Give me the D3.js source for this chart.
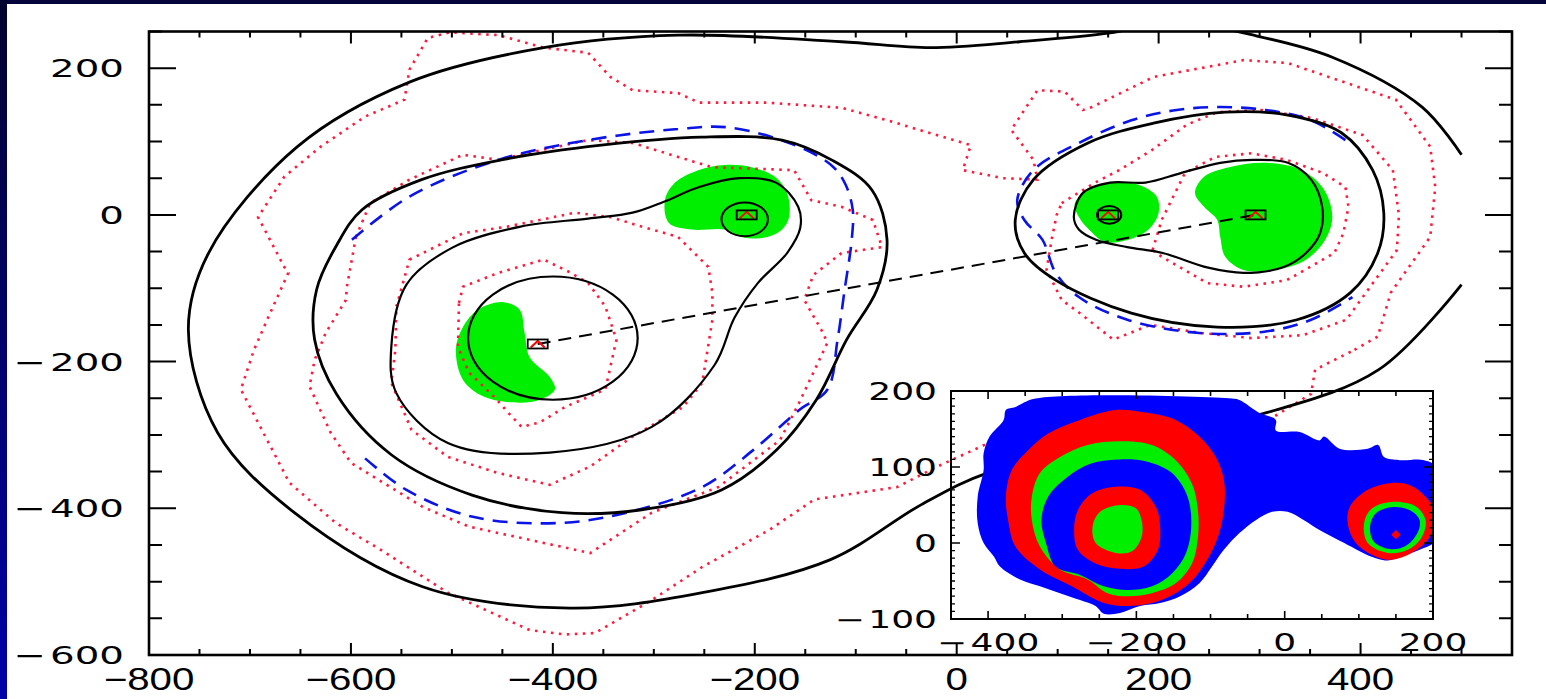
<!DOCTYPE html>
<html>
<head>
<meta charset="utf-8">
<script src="https://cdn.jsdelivr.net/npm/d3@7"></script>
<style>
  html, body { margin: 0; padding: 0; background: #fff; }
  svg { display: block; }
</style>
</head>
<body>
<div id="chart"></div>
<script>
// ---- main panel data (x, y in plot units) ----
var xTickLabels = [-800, -600, -400, -200, 0, 200, 400];
var yTickLabels = [-600, -400, -200, 0, 200];

var lenses = [[-415, -176], [-208, 0], [150, 0], [296, 0]];
var lensRings = [[-210, -6, 23], [151, 0, 12]];   // cx, cy, r

var outerCurve = [[500,82],[461,147],[372,215],[284,248],[230,262],[193,259],[152,248],[62,236],[-26,228],[-114,236],
  [-276,245],[-409,228],[-542,181],[-653,93],[-741,-52],[-761,-157],[-732,-297],[-656,-406],[-529,-507],[-383,-536],
  [-252,-515],[-125,-470],[-35,-395],[30,-352],[173,-307],[306,-270],[418,-211],[500,-95]];

var leftMid = [[-69,-34],[-84,34],[-124,75],[-173,102],[-253,106],[-352,95],[-451,75],[-530,48],[-589,7],[-614,-41],
  [-634,-102],[-636,-170],[-614,-245],[-560,-327],[-480,-382],[-391,-406],[-312,-402],[-233,-375],[-178,-320],
  [-139,-252],[-109,-170],[-79,-102]];

var leftInner = [[-560,-180],[-545,-95],[-500,-45],[-432,-16],[-365,-5],[-321,3],[-290,18],[-255,38],[-215,50],
  [-179,44],[-157,11],[-155,-18],[-168,-52],[-197,-93],[-220,-140],[-240,-205],[-302,-289],[-403,-324],[-504,-311],[-555,-243]];

var leftCircle = { cx: -400, cy: -168, r: 84 };

var rightPeanut = [[116,-3],[125,30],[152,44],[187,44],[222,57],[261,71],[293,75],[328,71],[351,48],[362,11],[360,-25],
  [346,-52],[324,-71],[284,-79],[249,-72],[204,-52],[169,-44],[138,-34],[121,-20]];

var rightOval = [[58,-7],[76,48],[130,98],[195,125],[266,140],[328,136],[381,112],[412,61],[423,3],[417,-52],[390,-106],
  [337,-143],[258,-153],[173,-134],[98,-89],[67,-52]];

var blueLeft = [[-599,-34],[-542,25],[-454,75],[-365,102],[-276,117],[-224,119],[-153,91],[-122,65],[-110,41],[-103,7],
  [-104,-34],[-111,-102],[-118,-170],[-128,-238],[-156,-266],[-201,-320],[-252,-371],[-327,-406],[-393,-420],
  [-478,-412],[-545,-375],[-590,-327]];

var blueRight = [[385,102],[351,129],[306,143],[261,147],[218,143],[173,129],[121,98],[76,61],[60,20],[67,-7],[85,-34],
  [98,-79],[121,-112],[169,-143],[240,-161],[306,-159],[351,-143],[392,-112]];

var greenBlobs = [
  [[-449,-119],[-433,-129],[-428,-161],[-423,-194],[-403,-221],[-398,-238],[-413,-252],[-433,-256],[-468,-248],
   [-489,-225],[-496,-184],[-489,-153],[-474,-129]],
  [[-289,20],[-279,44],[-256,61],[-230,68],[-203,65],[-180,52],[-168,30],[-166,-3],[-173,-20],[-190,-31],[-213,-30],
   [-230,-20],[-262,-20],[-285,-11]],
  [[117,16],[134,37],[154,44],[180,41],[198,25],[200,3],[190,-20],[170,-34],[147,-37],[131,-20],[121,-3]],
  [[236,30],[245,52],[270,65],[306,71],[342,61],[364,34],[372,-3],[365,-34],[346,-61],[315,-75],[284,-75],[266,-57],
   [261,-30],[258,-7],[245,11]]
];

// red dotted contours (jagged, closed)
var dotLens = [[-493,-120],[-489,-98],[-454,-79],[-409,-61],[-382,-79],[-365,-93],[-348,-125],[-337,-170],[-348,-238],
  [-388,-262],[-413,-283],[-431,-289],[-444,-270],[-458,-248],[-483,-215],[-494,-180]];
var dotLeft2 = [[-542,-61],[-489,-25],[-445,-16],[-378,3],[-343,-3],[-312,-16],[-276,-30],[-246,-71],[-242,-106],
  [-242,-143],[-252,-229],[-271,-262],[-322,-303],[-363,-343],[-403,-368],[-454,-352],[-504,-330],[-540,-293],
  [-560,-229],[-556,-184],[-555,-125]];
var dotLeft3 = [[-595,-30],[-581,16],[-542,48],[-489,82],[-454,75],[-409,89],[-365,102],[-321,98],[-276,79],[-242,65],
  [-161,61],[-144,20],[-114,11],[-83,-7],[-74,-44],[-114,-52],[-142,-82],[-151,-116],[-134,-157],[-128,-174],
  [-156,-256],[-175,-307],[-236,-371],[-302,-406],[-363,-461],[-423,-443],[-483,-425],[-529,-398],[-600,-338],
  [-620,-297],[-641,-234],[-636,-198],[-625,-161],[-605,-116],[-604,-98]];
var dotOuter = [[394,-184],[417,-166],[430,-106],[469,-30],[474,38],[469,93],[435,157],[328,207],[284,211],[195,188],
  [134,147],[125,143],[107,168],[80,170],[54,116],[76,75],[80,48],[46,50],[6,61],[14,95],[-69,129],[-114,146],
  [-188,153],[-255,153],[-276,166],[-321,170],[-343,188],[-365,221],[-409,228],[-454,245],[-502,249],[-524,241],
  [-542,198],[-547,157],[-586,134],[-630,93],[-666,52],[-692,-3],[-666,-71],[-662,-79],[-683,-143],[-696,-184],
  [-709,-238],[-661,-365],[-615,-420],[-570,-457],[-504,-515],[-423,-566],[-388,-572],[-358,-570],[-302,-525],
  [-252,-480],[-185,-429],[-141,-388],[-59,-371],[-19,-343],[38,-307],[173,-293],[306,-282],[351,-244],[355,-211]];
var dotRightIn = [[194,-48],[203,-7],[226,57],[256,79],[292,84],[327,75],[363,57],[385,38],[388,11],[383,-25],
  [374,-52],[327,-89],[284,-98],[248,-93],[203,-57]];
var dotRightMid = [[104,16],[137,44],[161,61],[193,88],[228,123],[258,140],[302,143],[352,132],[402,109],[432,61],
  [438,0],[436,-48],[418,-82],[386,-143],[343,-164],[292,-168],[242,-161],[192,-150],[155,-170],[122,-134],[104,-116],
  [89,-75],[94,-34],[99,0]];

// ---- inset data (inset units) ----
var insetXLabels = [-400, -200, 0, 200];
var insetYLabels = [-100, 0, 100, 200];
var insetBlue = [[-336,190],[-71,190],[-61,188],[-34,171],[-12,162],[-12,148],[20,146],[47,135],[53,140],[74,124],
  [112,124],[126,129],[134,113],[155,109],[188,109],[204,100],[204,4],[182,-9],[155,-18],[139,-23],[112,-16],[90,-5],
  [47,17],[26,30],[4,41],[-17,41],[-39,30],[-61,13],[-82,-9],[-98,-31],[-115,-53],[-141,-70],[-168,-79],[-195,-83],
  [-222,-92],[-244,-93],[-255,-83],[-276,-75],[-303,-66],[-330,-57],[-357,-48],[-384,-31],[-392,-18],[-406,0],
  [-414,26],[-414,61],[-406,96],[-406,118],[-398,140],[-379,162],[-376,175],[-363,179]];
var insetRedBig = [[-228,175],[-276,162],[-319,144],[-346,122],[-368,96],[-376,61],[-373,30],[-363,-5],[-330,-35],
  [-287,-57],[-244,-79],[-212,-83],[-179,-79],[-147,-66],[-120,-44],[-93,0],[-82,43],[-82,83],[-93,113],[-115,140],
  [-147,162],[-190,172]];
var insetGreenRing = [[-222,134],[-266,129],[-303,113],[-330,92],[-341,61],[-341,30],[-330,-5],[-303,-35],[-266,-48],
  [-239,-66],[-212,-70],[-179,-66],[-147,-53],[-125,-27],[-117,8],[-117,43],[-125,78],[-147,109],[-179,129]];
var insetBlueHole = [[-222,110],[-260,105],[-293,87],[-319,61],[-328,30],[-322,0],[-309,-31],[-276,-42],[-244,-57],
  [-212,-62],[-179,-57],[-152,-40],[-133,-13],[-126,22],[-131,61],[-152,92],[-185,107]];
var insetRedInner = [[-228,74],[-260,65],[-279,43],[-284,17],[-279,-9],[-255,-27],[-222,-34],[-190,-31],[-171,-9],
  [-168,22],[-174,48],[-195,70]];
var insetGreenCore = [[-222,50],[-249,41],[-259,22],[-255,0],[-228,-13],[-206,-11],[-193,8],[-193,30],[-201,46]];
var insetRedSmall = [[144,79],[112,70],[88,48],[85,26],[96,0],[123,-18],[144,-22],[171,-13],[193,4],[206,35],[190,61],[169,76]];
var insetGreenSmall = [[144,54],[117,45],[107,26],[112,0],[139,-13],[166,-9],[185,8],[190,30],[177,48]];
var insetBlueSmall = [[144,47],[123,39],[115,21],[120,2],[142,-8],[163,-4],[179,13],[182,30],[169,43]];
var insetDot = [150, 11];

// ---- layout ----
var W = 1546, H = 699;
var svg = d3.select('#chart').append('svg').attr('width', W).attr('height', H);

var defs = svg.append('defs');
var grad = defs.append('linearGradient').attr('id', 'edge').attr('x1', 0).attr('y1', 0).attr('x2', 0).attr('y2', 1);
grad.append('stop').attr('offset', '0%').attr('stop-color', '#02022e');
grad.append('stop').attr('offset', '100%').attr('stop-color', '#0000a8');

svg.append('rect').attr('width', W).attr('height', H).attr('fill', '#fff');
svg.append('rect').attr('x', 0).attr('y', 0).attr('width', W).attr('height', 4).attr('fill', '#05053a');
svg.append('rect').attr('x', 0).attr('y', 0).attr('width', 7).attr('height', H).attr('fill', 'url(#edge)');

var x = d3.scaleLinear().domain([-800, 550]).range([149, 1512]);
var y = d3.scaleLinear().domain([-600, 250]).range([655, 31.5]);

defs.append('clipPath').attr('id', 'plotclip').append('rect')
  .attr('x', x(-800)).attr('y', y(250)).attr('width', x(550) - x(-800)).attr('height', y(-600) - y(250));

var plot = svg.append('g').attr('clip-path', 'url(#plotclip)');

var smoothOpen = d3.line().x(function (d) { return x(d[0]); }).y(function (d) { return y(d[1]); }).curve(d3.curveCatmullRom);
var smoothClosed = d3.line().x(function (d) { return x(d[0]); }).y(function (d) { return y(d[1]); }).curve(d3.curveCatmullRomClosed);
var jagged = d3.line().x(function (d) { return x(d[0]); }).y(function (d) { return y(d[1]); }).curve(d3.curveLinearClosed);

// green image regions
plot.selectAll('.green')
  .data(greenBlobs)
  .enter()
  .append('path')
  .attr('class', 'green')
  .attr('d', smoothClosed)
  .attr('fill', '#00ee00');

// red dotted contours
plot.selectAll('.dotted')
  .data([dotLens, dotLeft2, dotLeft3, dotOuter, dotRightIn, dotRightMid])
  .enter()
  .append('path')
  .attr('class', 'dotted')
  .attr('d', jagged)
  .attr('fill', 'none')
  .attr('stroke', '#ff1a3c')
  .attr('stroke-width', 2.6)
  .attr('stroke-dasharray', '2.5,5.5');

// blue dashed critical lines
plot.selectAll('.bluedash')
  .data([blueLeft, blueRight])
  .enter()
  .append('path')
  .attr('class', 'bluedash')
  .attr('d', smoothOpen)
  .attr('fill', 'none')
  .attr('stroke', '#0a14e6')
  .attr('stroke-width', 2.6)
  .attr('stroke-dasharray', '15,9');

// black contours
plot.append('path').attr('d', smoothOpen(outerCurve))
  .attr('fill', 'none').attr('stroke', '#000').attr('stroke-width', 2.8);
plot.selectAll('.solid')
  .data([leftMid, leftInner, rightPeanut, rightOval])
  .enter()
  .append('path')
  .attr('class', 'solid')
  .attr('d', smoothClosed)
  .attr('fill', 'none')
  .attr('stroke', '#000')
  .attr('stroke-width', function (d, i) { return (i === 0 || i === 3) ? 2.8 : 2.2; });

plot.append('ellipse')
  .attr('cx', x(leftCircle.cx)).attr('cy', y(leftCircle.cy))
  .attr('rx', x(leftCircle.cx + leftCircle.r) - x(leftCircle.cx))
  .attr('ry', y(leftCircle.cy - leftCircle.r) - y(leftCircle.cy))
  .attr('fill', 'none').attr('stroke', '#000').attr('stroke-width', 2.2);

plot.selectAll('.ring')
  .data(lensRings)
  .enter()
  .append('ellipse')
  .attr('class', 'ring')
  .attr('cx', function (d) { return x(d[0]); })
  .attr('cy', function (d) { return y(d[1]); })
  .attr('rx', function (d) { return x(d[0] + d[2]) - x(d[0]); })
  .attr('ry', function (d) { return y(d[1] - d[2]) - y(d[1]); })
  .attr('fill', 'none').attr('stroke', '#000').attr('stroke-width', 2);

// dashed line joining the lens positions
plot.append('line')
  .attr('x1', x(lenses[0][0])).attr('y1', y(lenses[0][1]))
  .attr('x2', x(lenses[3][0])).attr('y2', y(lenses[3][1]))
  .attr('stroke', '#000').attr('stroke-width', 2).attr('stroke-dasharray', '13,8');

// ---- inset ----
var xi = d3.scaleLinear().domain([-450, 200]).range([951, 1433]);
var yi = d3.scaleLinear().domain([-100, 200]).range([619, 391]);

defs.append('clipPath').attr('id', 'insetclip').append('rect')
  .attr('x', xi(-450)).attr('y', yi(200)).attr('width', xi(200) - xi(-450)).attr('height', yi(-100) - yi(200));

var inset = svg.append('g').attr('clip-path', 'url(#insetclip)');
var insetLine = d3.line().x(function (d) { return xi(d[0]); }).y(function (d) { return yi(d[1]); }).curve(d3.curveCatmullRomClosed);

var insetLayers = [
  [insetBlue, '#0000ff'], [insetRedBig, '#ff0000'], [insetGreenRing, '#00ee00'], [insetBlueHole, '#0000ff'],
  [insetRedInner, '#ff0000'], [insetGreenCore, '#00ee00'],
  [insetRedSmall, '#ff0000'], [insetGreenSmall, '#00ee00'], [insetBlueSmall, '#0000ff']
];
inset.selectAll('.fill')
  .data(insetLayers)
  .enter()
  .append('path')
  .attr('class', 'fill')
  .attr('d', function (d) { return insetLine(d[0]); })
  .attr('fill', function (d) { return d[1]; });

inset.append('path')
  .attr('d', d3.symbol().type(d3.symbolDiamond).size(40))
  .attr('transform', 'translate(' + xi(insetDot[0]) + ',' + yi(insetDot[1]) + ') scale(1.4,0.8)')
  .attr('fill', '#ff0000');

// lens markers (drawn on top)
var marks = svg.selectAll('.lens')
  .data(lenses)
  .enter()
  .append('g')
  .attr('class', 'lens')
  .attr('transform', function (d) { return 'translate(' + x(d[0]) + ',' + y(d[1]) + ')'; });
marks.append('path')
  .attr('d', 'M-7,3.5L0,-3L7,3.5')
  .attr('fill', 'none').attr('stroke', '#ff0000').attr('stroke-width', 2);
marks.append('rect')
  .attr('x', -10).attr('y', -4.5).attr('width', 20).attr('height', 9)
  .attr('fill', 'none').attr('stroke', '#000').attr('stroke-width', 1.8);

// ---- main frame and ticks ----
var frame = svg.append('g');
frame.append('rect')
  .attr('x', x(-800)).attr('y', y(250)).attr('width', x(550) - x(-800)).attr('height', y(-600) - y(250))
  .attr('fill', 'none').attr('stroke', '#000').attr('stroke-width', 2.6);

var xMinor = d3.range(-800, 551, 50);
var yMinor = d3.range(-600, 251, 50);

frame.selectAll('.xt')
  .data(xMinor)
  .enter()
  .append('path')
  .attr('class', 'xt')
  .attr('d', function (d) {
    var len = (d % 200 === 0) ? 12 : 6;
    return 'M' + x(d) + ',' + y(-600) + 'v' + (-len) + 'M' + x(d) + ',' + y(250) + 'v' + len;
  })
  .attr('stroke', '#000').attr('stroke-width', 2);

frame.selectAll('.yt')
  .data(yMinor)
  .enter()
  .append('path')
  .attr('class', 'yt')
  .attr('d', function (d) {
    var len = (d % 200 === 0) ? 27 : 13;
    return 'M' + x(-800) + ',' + y(d) + 'h' + len + 'M' + x(550) + ',' + y(d) + 'h' + (-len);
  })
  .attr('stroke', '#000').attr('stroke-width', 2);

function fmtWide(v) { return v < 0 ? '\u2212\u200A' + Math.abs(v) : String(v); }
function fmt(v) { return v < 0 ? '\u2212' + Math.abs(v) : String(v); }

frame.selectAll('.ylab')
  .data(yTickLabels)
  .enter()
  .append('text')
  .attr('class', 'ylab')
  .attr('transform', function (d) { return 'translate(124,' + (y(d) + 9) + ') scale(1.55,1)'; })
  .attr('text-anchor', 'end')
  .style('font-family', 'DejaVu Sans, sans-serif')
  .style('font-size', '25px')
  .text(fmtWide);

frame.selectAll('.xlab')
  .data(xTickLabels)
  .enter()
  .append('text')
  .attr('class', 'xlab')
  .attr('transform', function (d) { return 'translate(' + x(d) + ',690) scale(1.3,1)'; })
  .attr('text-anchor', 'middle')
  .style('font-family', 'Liberation Sans, Arial, sans-serif')
  .style('font-size', '31px')
  .text(fmt);

// ---- inset frame, ticks, labels ----
var iframe = svg.append('g');
iframe.append('rect')
  .attr('x', xi(-450)).attr('y', yi(200)).attr('width', xi(200) - xi(-450)).attr('height', yi(-100) - yi(200))
  .attr('fill', 'none').attr('stroke', '#000').attr('stroke-width', 2);

iframe.selectAll('.ixt')
  .data(d3.range(-450, 201, 50))
  .enter()
  .append('path')
  .attr('class', 'ixt')
  .attr('d', function (d) {
    var len = (d % 200 === 0) ? 8 : 5;
    return 'M' + xi(d) + ',' + yi(-100) + 'v' + (-len) + 'M' + xi(d) + ',' + yi(200) + 'v' + len;
  })
  .attr('stroke', '#000').attr('stroke-width', 1.6);

iframe.selectAll('.iyt')
  .data(d3.range(-100, 201, 10))
  .enter()
  .append('path')
  .attr('class', 'iyt')
  .attr('d', function (d) {
    var len = (d % 100 === 0) ? 9 : 4;
    return 'M' + xi(-450) + ',' + yi(d) + 'h' + len + 'M' + xi(200) + ',' + yi(d) + 'h' + (-len);
  })
  .attr('stroke', '#000').attr('stroke-width', 1.3);

iframe.selectAll('.iylab')
  .data(insetYLabels)
  .enter()
  .append('text')
  .attr('class', 'iylab')
  .attr('transform', function (d) { return 'translate(937,' + (yi(d) + 9) + ') scale(1.5,1)'; })
  .attr('text-anchor', 'end')
  .style('font-family', 'DejaVu Sans, sans-serif')
  .style('font-size', '24px')
  .text(fmtWide);

iframe.selectAll('.ixlab')
  .data(insetXLabels)
  .enter()
  .append('text')
  .attr('class', 'ixlab')
  .attr('transform', function (d) { return 'translate(' + xi(d) + ',' + (yi(-100) + 32) + ') scale(1.5,1)'; })
  .attr('text-anchor', 'middle')
  .style('font-family', 'DejaVu Sans, sans-serif')
  .style('font-size', '24px')
  .text(fmtWide);
</script>
</body>
</html>
